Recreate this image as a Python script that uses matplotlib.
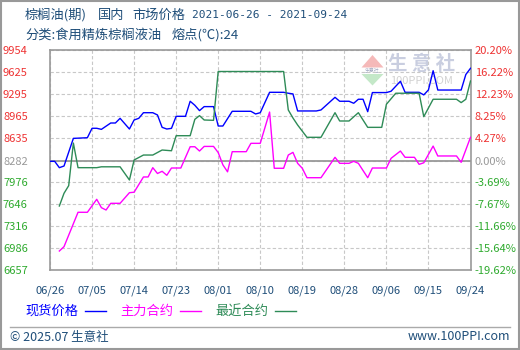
import matplotlib
matplotlib.use("Agg")
import matplotlib.pyplot as plt
from matplotlib.patches import Polygon, Rectangle
from matplotlib.lines import Line2D

plt.rcParams['font.family'] = ['Noto Sans CJK SC', 'DejaVu Sans']

# ---- data ---------------------------------------------------------------
title_parts1 = ["棕榈油(期)", "国内", "市场价格"]
title_dates = "2021-06-26 - 2021-09-24"
title_parts2 = ["分类:食用精炼棕榈液油", "熔点(℃):24"]

x_labels = ["06/26", "07/05", "07/14", "07/23", "08/01", "08/10",
            "08/19", "08/28", "09/06", "09/15", "09/24"]
x_label_days = [0, 9, 18, 27, 36, 45, 54, 63, 72, 81, 90]

price_ticks = [6657, 6986, 7316, 7646, 7976, 8282, 8635, 8965, 9295, 9625, 9954]
pct_labels = ["-19.62%", "-15.64%", "-11.66%", "-7.67%", "-3.69%", "0.00%",
              "4.27%", "8.25%", "12.23%", "16.22%", "20.20%"]
base_price = 8282

# spot price (现货价格), days counted from 2021-06-26
spot_days = [0, 1, 2, 3, 5, 8, 9, 10, 11, 13, 14, 15, 17, 18, 19, 20, 22, 23,
             24, 25, 26, 27, 29, 30, 31, 32, 33, 35, 36, 37, 39, 43, 44, 45,
             47, 50, 51, 52, 53, 57, 58, 61, 62, 64, 65, 66, 67, 68, 69, 72,
             73, 75, 76, 79, 80, 81, 82, 83, 88, 89, 90]
spot_price = [8282, 8282, 8187, 8212, 8625, 8635, 8776, 8776, 8760, 8855, 8855,
              8925, 8765, 8900, 8925, 9009, 9009, 8975, 8790, 8765, 8775, 8955,
              8955, 9180, 9120, 9040, 9100, 9100, 8810, 8810, 9030, 9030, 8990,
              9009, 9314, 9314, 9300, 9290, 9035, 9035, 9050, 9239, 9180, 9180,
              9150, 9210, 9210, 9024, 9310, 9310, 9330, 9479, 9314, 9314, 9275,
              9350, 9637, 9348, 9348, 9580, 9673]

# main contract (主力合约)
main_days = [2, 3, 6, 8, 10, 11, 12, 13, 15, 17, 18, 20, 21, 22, 23, 24, 25,
             26, 28, 30, 31, 32, 33, 35, 36, 37, 38, 39, 42, 43, 45, 47, 48,
             50, 51, 52, 53, 54, 55, 58, 61, 62, 64, 65, 66, 68, 69, 72, 73,
             75, 76, 78, 79, 80, 82, 83, 87, 88, 90]
main_price = [6941, 7006, 7520, 7520, 7714, 7589, 7554, 7654, 7654, 7813, 7820,
              8048, 8048, 8187, 8100, 8133, 8073, 8182, 8182, 8500, 8500, 8436,
              8505, 8505, 8413, 8230, 8125, 8426, 8426, 8551, 8551, 9019, 8178,
              8178, 8376, 8416, 8252, 8178, 8037, 8037, 8342, 8252, 8252, 8282,
              8252, 8037, 8182, 8182, 8327, 8436, 8342, 8342, 8237, 8260, 8510,
              8362, 8362, 8267, 8641]

# nearest contract (最近合约)
near_days = [2, 3, 4, 5, 6, 10, 11, 15, 17, 18, 20, 22, 24, 26, 27, 30, 31,
             32, 33, 35, 36, 50, 51, 52, 53, 55, 58, 61, 62, 64, 66, 68, 71,
             72, 74, 79, 80, 82, 87, 88, 89, 90]
near_price = [7614, 7804, 7918, 8555, 8187, 8187, 8200, 8200, 8003, 8302, 8376,
              8376, 8451, 8440, 8665, 8665, 8910, 8965, 8900, 8895, 9625, 9625,
              9050, 8930, 8825, 8641, 8641, 9009, 8885, 8885, 9009, 8790, 8790,
              9135, 9300, 9300, 8950, 9210, 9210, 9160, 9210, 9483]

series_names = ["现货价格", "主力合约", "最近合约"]
series_colors = ["#0000ff", "#ff00ff", "#2e8b57"]

# ---- figure -------------------------------------------------------------
W, H = 520, 350
fig = plt.figure(figsize=(W / 100, H / 100), dpi=100)
fig.patch.set_facecolor("white")


def fx(px):
    return px / W


def fy(py):
    return 1 - py / H


text_color = "#1f4e79"
up_color = "#ee3333"
down_color = "#2eaa2e"
zero_color = "#999999"
frame_color = "#999999"

ax = fig.add_axes([fx(50), fy(270), fx(470.5) - fx(50), fy(49.5) - fy(270)])
ax.set_xlim(0, 90)
ax.set_ylim(price_ticks[0], price_ticks[-1])

# watermark
wm = dict(transform=fig.transFigure, zorder=0.5)
ax.add_artist(Polygon([(fx(361.5), fy(67.5)), (fx(383.5), fy(67.5)), (fx(372.5), fy(55))],
                      closed=True, facecolor="#f5b9b9", edgecolor="none", **wm))
ax.add_artist(Polygon([(fx(361.5), fy(74)), (fx(383.5), fy(74)), (fx(372.5), fy(85.5))],
                      closed=True, facecolor="#c4e8c8", edgecolor="none", **wm))
ax.text(fx(372.5), fy(71), "生意社", fontsize=3.5, color="#a0a8c0", ha="center",
        va="center", **wm)
ax.text(fx(422), fy(64), "生 意 社", fontsize=14, color="#c9cee0", ha="center",
        va="center", fontweight="bold", **wm)
ax.text(fx(422), fy(80.5), "100PPI.COM", fontsize=8, color="#d2d2d2", ha="center",
        va="center", **wm)

ax.plot(spot_days, spot_price, color=series_colors[0], lw=1.0, zorder=3)
ax.plot(main_days, main_price, color=series_colors[1], lw=1.0, zorder=3)
ax.plot(near_days, near_price, color=series_colors[2], lw=1.0, zorder=3)

ax.set_xticks(x_label_days)
ax.set_xticklabels(x_labels)
ax.set_yticks(price_ticks)
ax.set_yticklabels([str(v) for v in price_ticks])
ax.grid(True, color="#c8c8c8", linestyle=(0, (3, 2)), linewidth=0.8)
ax.axhline(base_price, color=zero_color, lw=1.3, zorder=2)
ax.tick_params(axis="x", length=0, pad=11, labelsize=8, labelcolor=text_color)
ax.tick_params(axis="y", length=0, pad=16, labelsize=8)
for spine in ax.spines.values():
    spine.set_color(frame_color)
    spine.set_linewidth(1.2)

for v, lab in zip(price_ticks, ax.get_yticklabels()):
    lab.set_color(up_color if v > base_price else (zero_color if v == base_price else down_color))

ax2 = ax.twinx()
ax2.set_ylim(ax.get_ylim())
ax2.set_yticks(price_ticks)
ax2.set_yticklabels(pct_labels)
ax2.tick_params(axis="y", length=0, pad=3, labelsize=8)
for spine in ax2.spines.values():
    spine.set_visible(False)
for v, lab in zip(price_ticks, ax2.get_yticklabels()):
    lab.set_color(up_color if v > base_price else (zero_color if v == base_price else down_color))

# titles
for x0, part in zip([25, 98, 132], title_parts1):
    fig.text(fx(x0), fy(15), part, fontsize=9.5, color=text_color, va="center", ha="left")
fig.text(fx(192), fy(15), title_dates, fontsize=8, color=text_color, va="center",
         ha="left", family=["DejaVu Sans Mono"])
for x0, part in zip([25, 172], title_parts2):
    fig.text(fx(x0), fy(35), part, fontsize=9.5, color=text_color, va="center", ha="left")

# legend
legend_x = [25, 120, 215]
for x0, name, col in zip(legend_x, series_names, series_colors):
    fig.text(fx(x0), fy(311), name, fontsize=9.5, color=col, va="center", ha="left")
    fig.add_artist(Line2D([fx(x0 + 60), fx(x0 + 81)], [fy(311), fy(311)], color=col, lw=1.0))

# footer
fig.add_artist(Line2D([fx(10), fx(510)], [fy(326.5), fy(326.5)], color="#aaaaaa", lw=1.0))
fig.text(fx(10), fy(337), "© 2025.07 生意社", fontsize=9, color=text_color, va="center", ha="left")
fig.text(fx(510), fy(337), "www.100PPI.com", fontsize=9, color=text_color, va="center", ha="right")

fig.add_artist(Rectangle((0.001, 0.002), 0.997, 0.996, transform=fig.transFigure,
                         fill=False, edgecolor="#999999", lw=1.5))

fig.savefig("out.png", dpi=100)
